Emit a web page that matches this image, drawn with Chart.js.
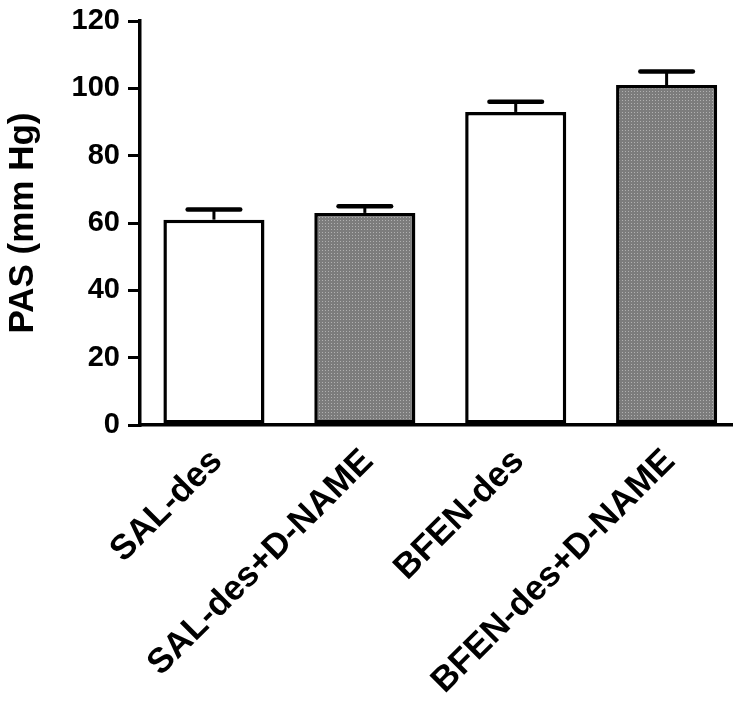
<!DOCTYPE html>
<html>
<head>
<meta charset="utf-8">
<script src="https://cdn.jsdelivr.net/npm/chart.js@4"></script>
<style>
  html, body { margin: 0; padding: 0; background: #fff; overflow: hidden; }
  #wrap { width: 733px; height: 706px; }
</style>
</head>
<body>
<div id="wrap"><canvas id="pasChart" width="733" height="706"></canvas></div>
<script>
// ---- data ----
const groups = ['SAL-des', 'SAL-des+D-NAME', 'BFEN-des', 'BFEN-des+D-NAME'];
const pasMean = [61, 63, 93, 101];
const pasSem = [3, 2, 3, 4];
const yTicks = [0, 20, 40, 60, 80, 100, 120];

const FONT = "'Liberation Sans', Arial, Helvetica, sans-serif";

// stippled grey like the original print
function makeStipple() {
    const c = document.createElement('canvas');
    c.width = 3; c.height = 3;
    const g = c.getContext('2d');
    g.fillStyle = '#7c7c7c';
    g.fillRect(0, 0, 3, 3);
    g.fillStyle = '#b0b0b0';
    g.fillRect(1, 1, 1, 1);
    return g.createPattern(c, 'repeat');
}
const stipple = makeStipple();
const barFills = ['#ffffff', stipple, '#ffffff', stipple];

// error bars (mean + SEM, upper only)
const errorBars = {
    id: 'errorBars',
    beforeDatasetsDraw(chart) {
        const ctx = chart.ctx;
        const meta = chart.getDatasetMeta(0);
        const y = chart.scales.y;
        ctx.save();
        ctx.strokeStyle = '#000';
        meta.data.forEach((bar, i) => {
            const top = y.getPixelForValue(pasMean[i] + pasSem[i]);
            const half = bar.width * 0.26;
            ctx.lineWidth = 3;
            ctx.lineCap = 'butt';
            ctx.beginPath();
            ctx.moveTo(bar.x, bar.y);
            ctx.lineTo(bar.x, top);
            ctx.stroke();
            ctx.lineWidth = 4.5;
            ctx.lineCap = 'round';
            ctx.beginPath();
            ctx.moveTo(bar.x - half, top);
            ctx.lineTo(bar.x + half, top);
            ctx.stroke();
        });
        ctx.restore();
    }
};

new Chart(document.getElementById('pasChart').getContext('2d'), {
    type: 'bar',
    data: {
        datasets: [{
            data: pasMean.map((v, i) => ({ x: i, y: v })),
            backgroundColor: barFills,
            borderColor: '#000',
            borderWidth: 3.5,
            borderSkipped: false,
            barPercentage: 0.67,
            categoryPercentage: 1
        }]
    },
    options: {
        responsive: false,
        animation: false,
        events: [],
        layout: { padding: { top: 0, right: 0, bottom: 0, left: 0 } },
        plugins: {
            legend: { display: false },
            tooltip: { enabled: false }
        },
        scales: {
            x: {
                type: 'linear',
                offset: false,
                bounds: 'data',
                min: -0.49,
                max: 3.44,
                grid: { display: false },
                border: { display: true, color: '#000', width: 3.5 },
                afterBuildTicks: (scale) => {
                    scale.ticks = groups.map((g, i) => ({ value: i }));
                },
                afterFit: (scale) => { scale.height = 281; },
                ticks: {
                    autoSkip: false,
                    minRotation: 45,
                    maxRotation: 45,
                    padding: 8,
                    labelOffset: 3,
                    color: '#000',
                    font: { family: FONT, size: 35, weight: 'bold' },
                    callback: (v) => groups[v]
                }
            },
            y: {
                min: 0,
                max: 120,
                afterBuildTicks: (scale) => {
                    scale.ticks = yTicks.map(v => ({ value: v }));
                },
                afterFit: (scale) => { scale.width = 140; },
                grid: {
                    display: true,
                    drawOnChartArea: false,
                    drawTicks: true,
                    tickLength: 12,
                    tickWidth: 3,
                    tickColor: '#000',
                    lineWidth: 3
                },
                border: { display: true, color: '#000', width: 3.5 },
                ticks: {
                    padding: 8,
                    color: '#000',
                    font: { family: FONT, size: 29, weight: 'bold', lineHeight: 0.9 }
                },
                title: {
                    display: true,
                    text: 'PAS (mm Hg)',
                    color: '#000',
                    padding: { top: 2, bottom: 0 },
                    font: { family: FONT, size: 35, weight: 'bold' }
                }
            }
        }
    },
    plugins: [errorBars]
});
</script>
</body>
</html>
